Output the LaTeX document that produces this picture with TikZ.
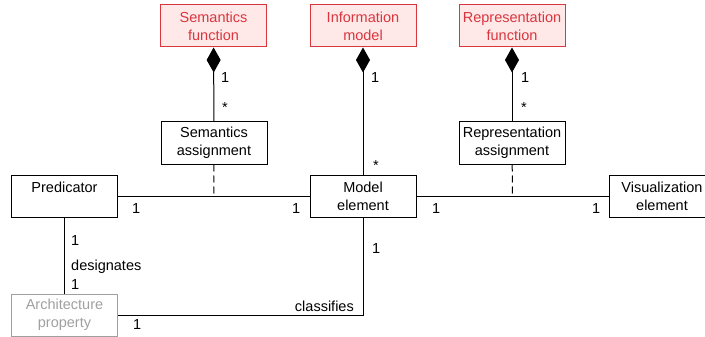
\documentclass[tikz,border=0pt]{standalone}
\usepackage{fontspec}
\setmainfont{Liberation Sans}
\usetikzlibrary{arrows.meta}
\definecolor{fnred}{HTML}{D9363E}
\definecolor{fnfill}{HTML}{FFE8E8}
\definecolor{propgray}{HTML}{A0A0A0}
\tikzset{
  box/.style={draw, line width=1pt, minimum width=106pt, minimum height=42pt,
    align=center, inner sep=0pt, font=\fontsize{14.5}{18}\selectfont},
  fnbox/.style={box, draw=fnred, fill=fnfill, text=fnred},
  propbox/.style={box, draw=propgray, text=propgray},
  lbl/.style={anchor=base west, inner sep=0pt, font=\fontsize{14.5}{18}\selectfont},
  comp/.style={line width=1pt, {Diamond[length=25pt,width=14pt]}-}
}
\begin{document}
\begin{tikzpicture}[x=1pt,y=-1pt]
            \useasboundingbox (0,0) rectangle (705,337);
            % functions on top
            \node[fnbox] (semfun) at (213.5,26) {Semantics\\function};
            \node[fnbox] (infomod) at (363,26) {Information\\model};
            \node[fnbox] (repfun) at (512,26) {Representation\\function};
            % assignments
            \node[box] (semass) at (214,143) {Semantics\\assignment};
            \node[box] (repass) at (512,143) {Representation\\assignment};
            % main row
            \node[box] (pred) at (64.5,196.5) {Predicator\\~};
            \node[box] (model) at (363,196.5) {Model\\element};
            \node[box] (vis) at (662,196.5) {Visualization\\element};
            \node[propbox] (arch) at (64.5,315) {Architecture\\property};
            % connectors
            \draw[comp] (semfun) -- (semass);
            \draw[comp] (infomod) -- (model);
            \draw[comp] (repfun) -- (repass);
            \draw[line width=1pt] (pred) -- coordinate[midway] (semmid) (model);
            \draw[line width=1pt] (model) -- coordinate[midway] (repmid) (vis);
            \draw[line width=1pt, dash pattern=on 7pt off 4pt] (semass) -- (semmid);
            \draw[line width=1pt, dash pattern=on 7pt off 4pt] (repass) -- (repmid);
            \draw[line width=1pt] (pred) -- (arch);
            \draw[line width=1pt] (model) |- (arch);
            % multiplicities
            \node[lbl] at (221,83) {1};
            \node[lbl] at (222,113) {*};
            \node[lbl] at (371,83) {1};
            \node[lbl] at (521,83) {1};
            \node[lbl] at (521,113) {*};
            \node[lbl] at (373,170) {*};
            \node[lbl] at (132,213) {1};
            \node[lbl] at (292,213) {1};
            \node[lbl] at (432,213) {1};
            \node[lbl] at (592,213) {1};
            \node[lbl] at (71,245) {1};
            \node[lbl] at (71,270) {designates};
            \node[lbl] at (71,289) {1};
            \node[lbl] at (372,253) {1};
            \node[lbl, anchor=base east] at (354,311) {classifies};
            \node[lbl] at (133,329) {1};
          \end{tikzpicture}
\end{document}
